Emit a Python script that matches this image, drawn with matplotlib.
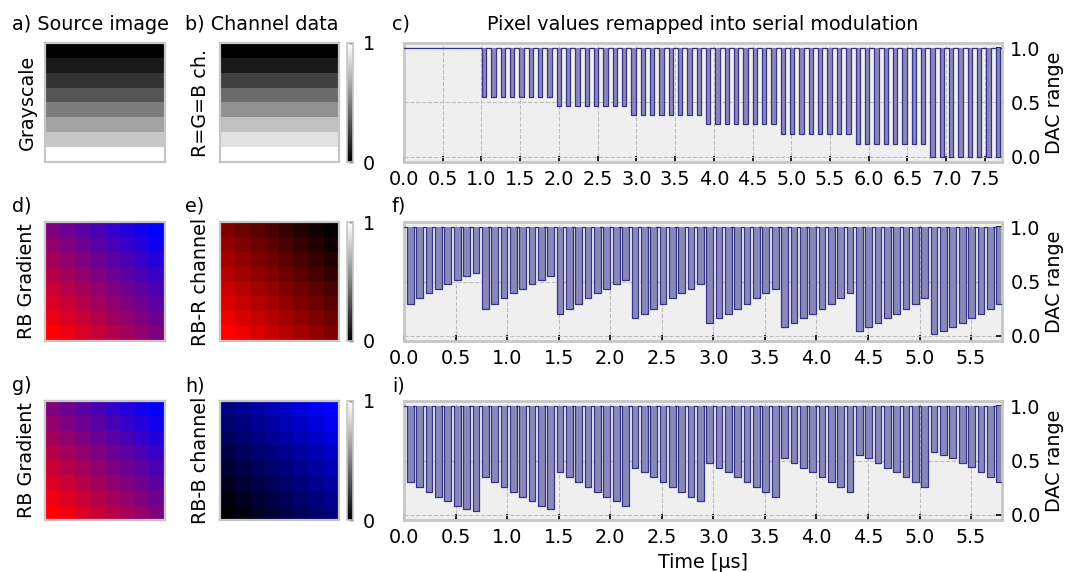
import numpy as np
import matplotlib
matplotlib.use("Agg")
import matplotlib.pyplot as plt
from matplotlib.colors import Normalize
import matplotlib.cm as cm

# ---------------- data ----------------
gray_source_rows = [0.0, 0.094, 0.20, 0.33, 0.49, 0.64, 0.78, 1.0]
gray_channel_rows = [0.0, 0.10, 0.255, 0.42, 0.57, 0.75, 0.88, 1.0]

red_channel = [
    [0.50, 0.43, 0.36, 0.29, 0.21, 0.14, 0.07, 0.00],
    [0.57, 0.50, 0.43, 0.36, 0.29, 0.21, 0.14, 0.07],
    [0.64, 0.57, 0.50, 0.43, 0.36, 0.29, 0.21, 0.14],
    [0.71, 0.64, 0.57, 0.50, 0.43, 0.36, 0.29, 0.21],
    [0.79, 0.71, 0.64, 0.57, 0.50, 0.43, 0.36, 0.29],
    [0.86, 0.79, 0.71, 0.64, 0.57, 0.50, 0.43, 0.36],
    [0.93, 0.86, 0.79, 0.71, 0.64, 0.57, 0.50, 0.43],
    [1.00, 0.93, 0.86, 0.79, 0.71, 0.64, 0.57, 0.50],
]
blue_channel = [
    [0.50, 0.57, 0.64, 0.71, 0.79, 0.86, 0.93, 1.00],
    [0.43, 0.50, 0.57, 0.64, 0.71, 0.79, 0.86, 0.93],
    [0.36, 0.43, 0.50, 0.57, 0.64, 0.71, 0.79, 0.86],
    [0.29, 0.36, 0.43, 0.50, 0.57, 0.64, 0.71, 0.79],
    [0.21, 0.29, 0.36, 0.43, 0.50, 0.57, 0.64, 0.71],
    [0.14, 0.21, 0.29, 0.36, 0.43, 0.50, 0.57, 0.64],
    [0.07, 0.14, 0.21, 0.29, 0.36, 0.43, 0.50, 0.57],
    [0.00, 0.07, 0.14, 0.21, 0.29, 0.36, 0.43, 0.50],
]

dac_gray = [
    [1.0] * 8,
    [0.548] * 8,
    [0.47] * 8,
    [0.386] * 8,
    [0.30] * 8,
    [0.205] * 8,
    [0.118] * 8,
    [0.0] * 8,
]
dac_red = [
    [0.294, 0.345, 0.39, 0.435, 0.477, 0.514, 0.55, 0.58],
    [0.25, 0.294, 0.345, 0.39, 0.435, 0.477, 0.514, 0.55],
    [0.20, 0.25, 0.294, 0.345, 0.39, 0.435, 0.477, 0.514],
    [0.16, 0.20, 0.25, 0.294, 0.345, 0.39, 0.435, 0.477],
    [0.12, 0.16, 0.20, 0.25, 0.294, 0.345, 0.39, 0.435],
    [0.084, 0.12, 0.16, 0.20, 0.25, 0.294, 0.345, 0.39],
    [0.045, 0.084, 0.12, 0.16, 0.20, 0.25, 0.294, 0.345],
    [0.015, 0.045, 0.084, 0.12, 0.16, 0.20, 0.25, 0.294],
]
dac_blue = [
    [0.30, 0.255, 0.21, 0.165, 0.123, 0.081, 0.054, 0.03],
    [0.35, 0.30, 0.255, 0.21, 0.165, 0.123, 0.081, 0.054],
    [0.39, 0.35, 0.30, 0.255, 0.21, 0.165, 0.123, 0.081],
    [0.435, 0.39, 0.35, 0.30, 0.255, 0.21, 0.165, 0.123],
    [0.48, 0.435, 0.39, 0.35, 0.30, 0.255, 0.21, 0.165],
    [0.52, 0.48, 0.435, 0.39, 0.35, 0.30, 0.255, 0.21],
    [0.55, 0.52, 0.48, 0.435, 0.39, 0.35, 0.30, 0.255],
    [0.577, 0.55, 0.52, 0.48, 0.44, 0.393, 0.345, 0.30],
]

# timing (µs): pixel period, blank before pulse, pulse width
timing_gray = (0.1206, 0.040, 0.056)
timing_rb = (0.0907, 0.030, 0.065)

xticks_gray = [0.0, 0.5, 1.0, 1.5, 2.0, 2.5, 3.0, 3.5, 4.0, 4.5, 5.0, 5.5, 6.0, 6.5, 7.0, 7.5]
xticks_rb = [0.0, 0.5, 1.0, 1.5, 2.0, 2.5, 3.0, 3.5, 4.0, 4.5, 5.0, 5.5]
yticks_dac = [0.0, 0.5, 1.0]

# ---------------- figure ----------------
W, H = 1066, 572
fig = plt.figure(figsize=(W / 100, H / 100), dpi=100)
FS = 13.8
FRAME = '#c6c6c6'


def rect(x0, y0, x1, y1):
    return [x0 / W, 1 - y1 / H, (x1 - x0) / W, (y1 - y0) / H]


def style_image_ax(ax):
    ax.set_xticks([])
    ax.set_yticks([])
    for s in ax.spines.values():
        s.set_color(FRAME)
        s.set_linewidth(1.6)


def add_colorbar(top, bot):
    cax = fig.add_axes(rect(347, top, 353, bot))
    cb = fig.colorbar(cm.ScalarMappable(norm=Normalize(0, 1), cmap='gray'), cax=cax, ticks=[0, 1])
    cb.ax.set_yticklabels(['0', '1'])
    cb.ax.tick_params(labelsize=FS, length=3, width=1, direction='in', pad=7)
    cb.outline.set_edgecolor(FRAME)
    cb.outline.set_linewidth(1.2)


def pulse_signal(values, T, a, w):
    t, y = [], []
    for k, v in enumerate(values):
        t0 = k * T
        t += [t0, t0 + a, t0 + a, t0 + a + w, t0 + a + w]
        y += [1.0, 1.0, v, v, 1.0]
    t.append(len(values) * T)
    y.append(1.0)
    return np.array(t), np.array(y)


def draw_signal(ax, dac, timing, xmax, xticks, xlabel=None):
    T, a, w = timing
    t, y = pulse_signal(np.array(dac).ravel(), T, a, w)
    ax.set_facecolor('#efefef')
    ax.fill_between(t, y, 1.0, color='#8989b9', lw=0, zorder=2)
    ax.plot(t, y, color='#34348a', lw=0.9, zorder=3)
    ax.set_xlim(0, xmax)
    ax.set_ylim(-0.05, 1.05)
    ax.set_xticks(xticks)
    ax.set_xticklabels([f"{v:.1f}" for v in xticks])
    ax.set_yticks(yticks_dac)
    ax.set_yticklabels([f"{v:.1f}" for v in yticks_dac])
    ax.yaxis.tick_right()
    ax.yaxis.set_label_position('right')
    ax.set_ylabel('DAC range', fontsize=FS, labelpad=3)
    ax.grid(True, ls='--', color='#bdbdbd', lw=0.8)
    ax.set_axisbelow(True)
    ax.tick_params(direction='in', length=4, width=1.2, color='k', labelsize=FS, pad=6)
    for s in ax.spines.values():
        s.set_color(FRAME)
        s.set_linewidth(2)
    if xlabel:
        ax.set_xlabel(xlabel, fontsize=FS, labelpad=4)


rows = [(43, 162), (222, 341), (401, 520)]
title_base = [30, 211, 391]

# --- Row 1 ---
top, bot = rows[0]
ax_a = fig.add_axes(rect(45, top, 165, bot))
ax_a.imshow(np.array(gray_source_rows)[:, None] * np.ones((1, 8)), cmap='gray', vmin=0, vmax=1,
            aspect='auto', interpolation='nearest')
style_image_ax(ax_a)
ax_b = fig.add_axes(rect(220, top, 339, bot))
ax_b.imshow(np.array(gray_channel_rows)[:, None] * np.ones((1, 8)), cmap='gray', vmin=0, vmax=1,
            aspect='auto', interpolation='nearest')
style_image_ax(ax_b)
add_colorbar(top, bot)
ax_c = fig.add_axes(rect(404, top, 1002, bot))
draw_signal(ax_c, dac_gray, timing_gray, 7.72, xticks_gray)

# --- Row 2 ---
R = np.array(red_channel)
B = np.array(blue_channel)
rgb = np.dstack([R, np.zeros_like(R), B])
top, bot = rows[1]
ax_d = fig.add_axes(rect(45, top, 165, bot))
ax_d.imshow(rgb, aspect='auto', interpolation='nearest')
style_image_ax(ax_d)
ax_e = fig.add_axes(rect(220, top, 339, bot))
ax_e.imshow(np.dstack([R, np.zeros_like(R), np.zeros_like(R)]), aspect='auto', interpolation='nearest')
style_image_ax(ax_e)
add_colorbar(top, bot)
ax_f = fig.add_axes(rect(404, top, 1002, bot))
draw_signal(ax_f, dac_red, timing_rb, 5.80, xticks_rb)

# --- Row 3 ---
top, bot = rows[2]
ax_g = fig.add_axes(rect(45, top, 165, bot))
ax_g.imshow(rgb, aspect='auto', interpolation='nearest')
style_image_ax(ax_g)
ax_h = fig.add_axes(rect(220, top, 339, bot))
ax_h.imshow(np.dstack([np.zeros_like(B), np.zeros_like(B), B]), aspect='auto', interpolation='nearest')
style_image_ax(ax_h)
add_colorbar(top, bot)
ax_i = fig.add_axes(rect(404, top, 1002, bot))
draw_signal(ax_i, dac_blue, timing_rb, 5.80, xticks_rb, xlabel='Time [µs]')

# --- texts ---
def ftxt(x, y, s, **kw):
    fig.text(x / W, 1 - y / H, s, fontsize=FS, **kw)

ftxt(12, title_base[0], 'a) Source image', va='baseline')
ftxt(185, title_base[0], 'b) Channel data', va='baseline')
ftxt(392, title_base[0], 'c)', va='baseline')
ftxt(703, title_base[0], 'Pixel values remapped into serial modulation', va='baseline', ha='center')
ftxt(12, title_base[1], 'd)', va='baseline')
ftxt(185, title_base[1], 'e)', va='baseline')
ftxt(392, title_base[1], 'f)', va='baseline')
ftxt(12, title_base[2], 'g)', va='baseline')
ftxt(185, title_base[2], 'h)', va='baseline')
ftxt(392, title_base[2], 'i)', va='baseline')

side_labels = [('Grayscale', 'R=G=B ch.'), ('RB Gradient', 'RB-R channel'), ('RB Gradient', 'RB-B channel')]
for (top, bot), (l1, l2) in zip(rows, side_labels):
    yc = (top + bot) / 2
    ftxt(27, yc, l1, rotation=90, ha='center', va='center')
    ftxt(201, yc, l2, rotation=90, ha='center', va='center')

fig.savefig('out.png', dpi=100)
